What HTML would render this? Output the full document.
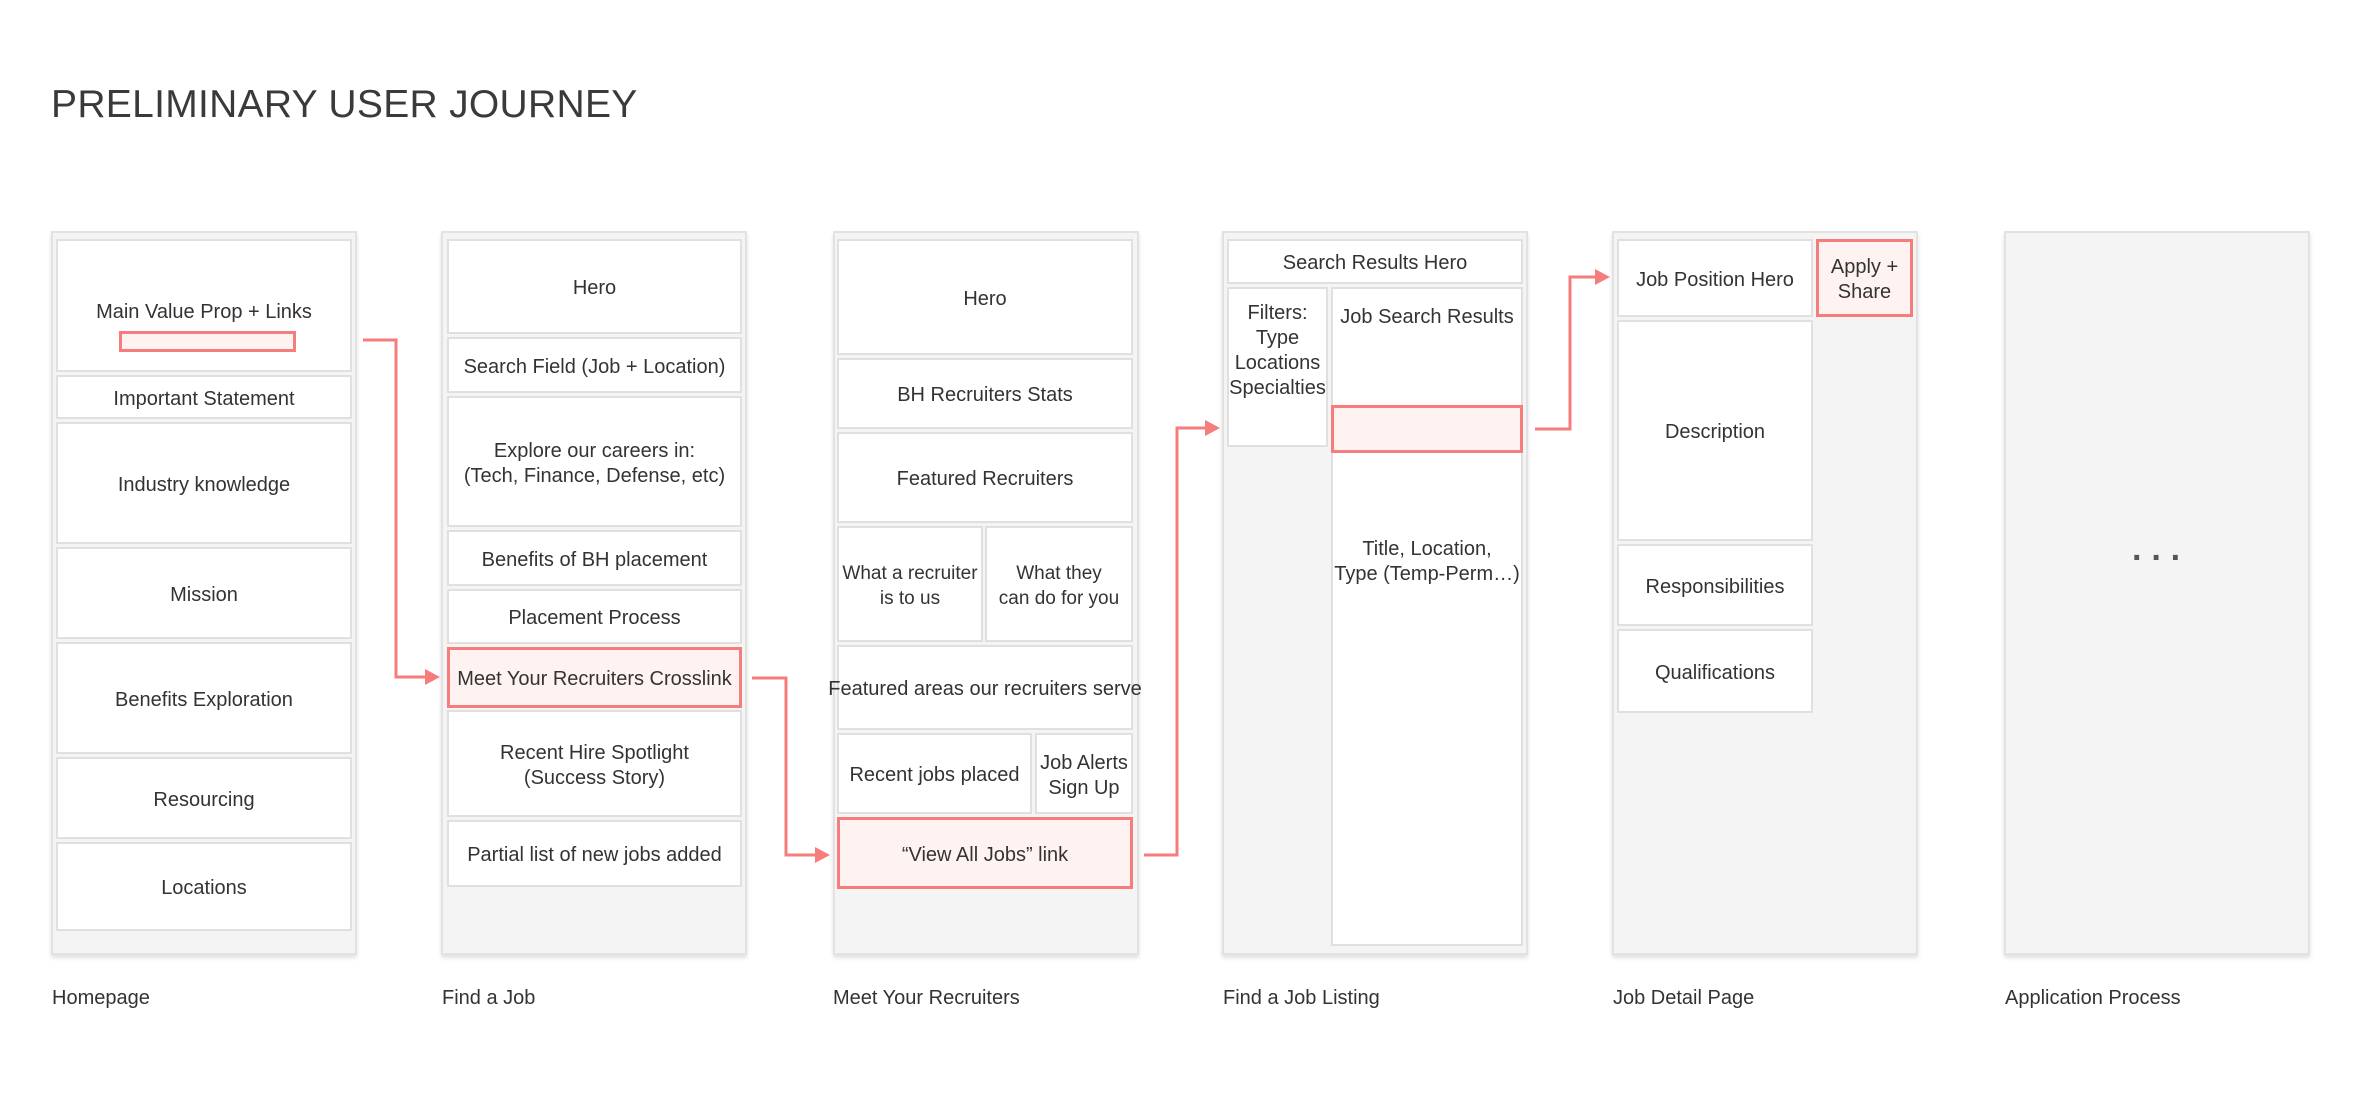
<!DOCTYPE html>
<html><head><meta charset="utf-8"><style>
*{margin:0;padding:0;box-sizing:border-box}
body{width:2370px;height:1098px;background:#fff;position:relative;overflow:hidden;font-family:"Liberation Sans",Arial,sans-serif;color:#333}
.t{position:absolute;left:51px;top:83px;font-size:39px;color:#3a3a3a;letter-spacing:0.3px}
.col{position:absolute;top:231px;height:724px;width:306px;background:#f4f4f4;border:2px solid #e2e2e2;box-shadow:0 3px 4px rgba(0,0,0,0.12)}
.b{position:absolute;background:#fff;border:2px solid #e0e0e0;display:flex;align-items:center;justify-content:center;text-align:center;font-size:20px;line-height:25px;color:#333;padding-top:4px}
.r{background:#fff3f2;border:3px solid #f77c7c}
.lbl{position:absolute;top:987px;font-size:20px;color:#333}
</style></head><body>
<div class="t">PRELIMINARY USER JOURNEY</div>

<div class="col" style="left:51px"></div>
<div class="col" style="left:441px"></div>
<div class="col" style="left:833px"></div>
<div class="col" style="left:1222px"></div>
<div class="col" style="left:1612px"></div>
<div class="col" style="left:2004px"></div>

<!-- Homepage -->
<div class="b" style="left:56px;top:239px;width:296px;height:133px;padding-top:14px">Main Value Prop + Links</div>
<div class="b r" style="left:119px;top:331px;width:177px;height:21px"></div>
<div class="b" style="left:56px;top:375px;width:296px;height:44px">Important Statement</div>
<div class="b" style="left:56px;top:422px;width:296px;height:122px">Industry knowledge</div>
<div class="b" style="left:56px;top:547px;width:296px;height:92px">Mission</div>
<div class="b" style="left:56px;top:642px;width:296px;height:112px">Benefits Exploration</div>
<div class="b" style="left:56px;top:757px;width:296px;height:82px">Resourcing</div>
<div class="b" style="left:56px;top:842px;width:296px;height:89px">Locations</div>

<!-- Find a Job -->
<div class="b" style="left:447px;top:239px;width:295px;height:95px">Hero</div>
<div class="b" style="left:447px;top:337px;width:295px;height:56px">Search Field (Job + Location)</div>
<div class="b" style="left:447px;top:396px;width:295px;height:131px">Explore our careers in:<br>(Tech, Finance, Defense, etc)</div>
<div class="b" style="left:447px;top:530px;width:295px;height:56px">Benefits of BH placement</div>
<div class="b" style="left:447px;top:589px;width:295px;height:55px">Placement Process</div>
<div class="b r" style="left:447px;top:647px;width:295px;height:61px">Meet Your Recruiters Crosslink</div>
<div class="b" style="left:447px;top:710px;width:295px;height:107px">Recent Hire Spotlight<br>(Success Story)</div>
<div class="b" style="left:447px;top:820px;width:295px;height:67px">Partial list of new jobs added</div>

<!-- Meet Your Recruiters -->
<div class="b" style="left:837px;top:239px;width:296px;height:116px">Hero</div>
<div class="b" style="left:837px;top:358px;width:296px;height:71px">BH Recruiters Stats</div>
<div class="b" style="left:837px;top:432px;width:296px;height:91px">Featured Recruiters</div>
<div class="b" style="left:837px;top:526px;width:146px;height:116px;white-space:nowrap;font-size:19px">What a recruiter<br>is to us</div>
<div class="b" style="left:985px;top:526px;width:148px;height:116px;white-space:nowrap;font-size:19px">What they<br>can do for you</div>
<div class="b" style="left:837px;top:645px;width:296px;height:85px;white-space:nowrap">Featured areas our recruiters serve</div>
<div class="b" style="left:837px;top:733px;width:195px;height:81px">Recent jobs placed</div>
<div class="b" style="left:1035px;top:733px;width:98px;height:81px">Job Alerts<br>Sign Up</div>
<div class="b r" style="left:837px;top:817px;width:296px;height:72px">“View All Jobs” link</div>

<!-- Find a Job Listing -->
<div class="b" style="left:1227px;top:239px;width:296px;height:45px">Search Results Hero</div>
<div class="b" style="left:1227px;top:287px;width:101px;height:160px;align-items:flex-start;padding-top:12px">Filters:<br>Type<br>Locations<br>Specialties</div>
<div class="b" style="left:1331px;top:287px;width:192px;height:659px;align-items:flex-start"><span style="position:absolute;top:16px">Job Search Results</span><span style="position:absolute;top:248px">Title, Location,<br>Type (Temp-Perm…)</span></div>
<div class="b r" style="left:1331px;top:405px;width:192px;height:48px"></div>

<!-- Job Detail -->
<div class="b" style="left:1617px;top:239px;width:196px;height:78px">Job Position Hero</div>
<div class="b r" style="left:1816px;top:239px;width:97px;height:78px">Apply +<br>Share</div>
<div class="b" style="left:1617px;top:320px;width:196px;height:221px">Description</div>
<div class="b" style="left:1617px;top:544px;width:196px;height:82px">Responsibilities</div>
<div class="b" style="left:1617px;top:629px;width:196px;height:84px">Qualifications</div>

<div style="position:absolute;left:2132px;top:539px;font-size:34px;color:#555;letter-spacing:8px;font-weight:bold">···</div>

<div class="lbl" style="left:52px">Homepage</div>
<div class="lbl" style="left:442px">Find a Job</div>
<div class="lbl" style="left:833px">Meet Your Recruiters</div>
<div class="lbl" style="left:1223px">Find a Job Listing</div>
<div class="lbl" style="left:1613px">Job Detail Page</div>
<div class="lbl" style="left:2005px">Application Process</div>

<svg style="position:absolute;left:0;top:0" width="2370" height="1098">
<g fill="none" stroke="#f77c7c" stroke-width="3">
<polyline points="363,340 396,340 396,677 428,677"/>
<polyline points="752,678 786,678 786,855 818,855"/>
<polyline points="1144,855 1177,855 1177,428 1208,428"/>
<polyline points="1535,429 1570,429 1570,277 1598,277"/>
</g>
<g fill="#f77c7c">
<polygon points="425,669 440,677 425,685"/>
<polygon points="815,847 830,855 815,863"/>
<polygon points="1205,420 1220,428 1205,436"/>
<polygon points="1595,269 1610,277 1595,285"/>
</g>
</svg>
</body></html>
